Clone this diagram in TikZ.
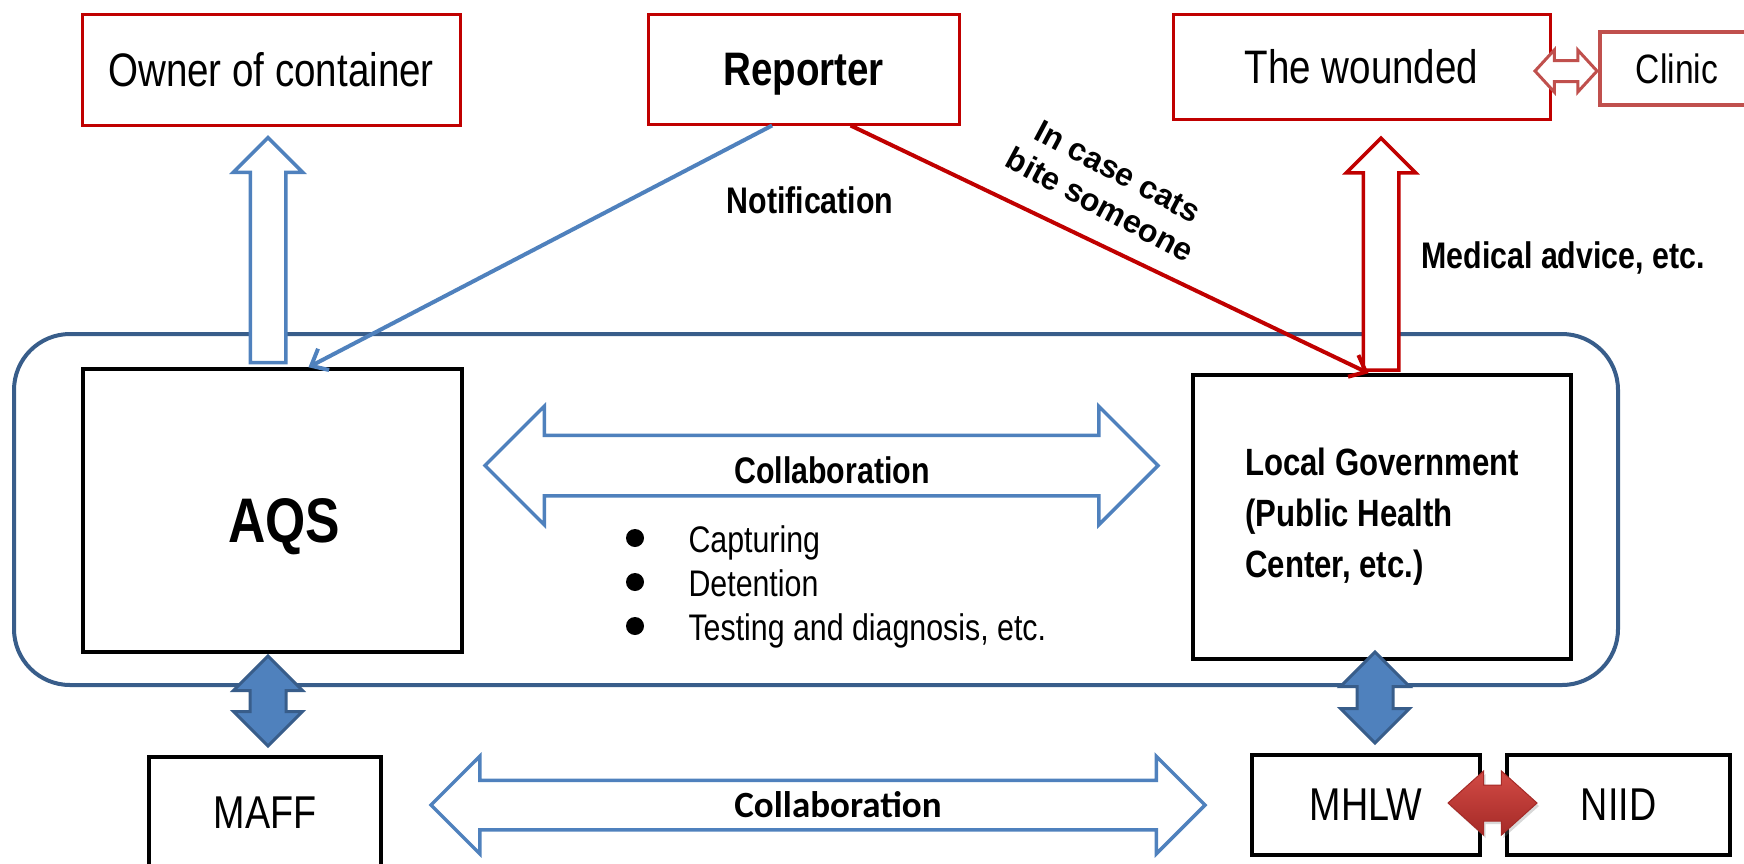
\documentclass[tikz,border=0pt]{standalone}
\usepackage{fontspec}
\setmainfont{Liberation Sans}[FakeStretch=0.82]
\newfontfamily\wideface{Liberation Sans}
\newfontfamily\calface{Carlito}
\usetikzlibrary{shapes.arrows,arrows.meta,calc,shadows}

\definecolor{boxred}{HTML}{C00000}
\definecolor{softred}{HTML}{C0504D}
\definecolor{arrowblue}{HTML}{4F81BD}
\definecolor{frameblue}{HTML}{385D8A}
\definecolor{glossred}{HTML}{D24A45}
\definecolor{deepred}{HTML}{A52A27}

\tikzset{
  redbox/.style={draw=boxred, line width=3pt, fill=white, inner sep=0pt},
  blackbox/.style={draw=black, line width=3.5pt, fill=white, inner sep=0pt},
  boxtext/.style={font=\fontsize{47}{56}\selectfont},
  tagtext/.style={font=\bfseries\fontsize{37}{44}\selectfont},
  hollowup/.style={single arrow, rotate=90, inner xsep=0pt, inner ysep=16pt,
    single arrow head extend=17pt, line width=3.5pt, fill=white},
  hollowboth/.style={double arrow, inner xsep=0pt, draw=arrowblue,
    line width=3.5pt, fill=white},
  solidboth/.style={double arrow, rotate=90, inner xsep=0pt, inner ysep=16.5pt,
    double arrow head extend=16.5pt, minimum width=66pt,
    draw=frameblue, fill=arrowblue, line width=3pt},
  bluelink/.style={draw=arrowblue, line width=4pt, ->},
  redlink/.style={draw=boxred, line width=4pt, ->}
}

\begin{document}
\begin{tikzpicture}[x=1pt, y=-1pt, >={Straight Barb[length=14pt,width=24pt]}]
    \useasboundingbox (0,0) rectangle (1744,863);
    \clip (0,0) rectangle (1744,863);

    % the frame round AQS and local government
    \draw[frameblue, line width=4pt, rounded corners=56pt] (14,334) rectangle (1618,685);

    % top row
    \node[redbox, boxtext, minimum width=378pt, minimum height=111pt] (owner) at (271,70) {Owner of container};
    \node[redbox, boxtext, font=\bfseries\fontsize{47}{56}\selectfont, text depth=0pt,
      minimum width=311pt, minimum height=110pt] (reporter) at (803.5,69) {Reporter};
    \node[redbox, boxtext, minimum width=377pt, minimum height=105pt] (wounded) at (1361.5,66.5) {The wounded};
    \node[draw=softred, line width=4pt, fill=white, inner sep=0pt, font=\fontsize{41}{48}\selectfont,
      minimum width=154pt, minimum height=73pt] (clinic) at (1677,68.5) {Clinic};

    % middle row
    \node[blackbox, minimum width=379pt, minimum height=283pt] (aqs) at (272.5,510.5) {};
    \node[font=\bfseries\fontsize{63}{70}\selectfont] (aqstext) at (284,527) {AQS};
    \node[blackbox, minimum width=378pt, minimum height=284pt, align=left,
      font=\bfseries\fontsize{38}{51}\selectfont] (localgov) at (1382,517)
      {Local Government\\(Public Health\\Center, etc.)};

    % bottom row
    \node[blackbox, boxtext, font=\fontsize{46}{54}\selectfont, minimum width=232pt, minimum height=112pt] (maff) at (265,813) {MAFF};
    \node[blackbox, boxtext, font=\fontsize{46}{54}\selectfont, minimum width=228pt, minimum height=100pt] (mhlw) at (1366,805) {MHLW};
    \node[blackbox, boxtext, font=\fontsize{46}{54}\selectfont, minimum width=223pt, minimum height=100pt] (niid) at (1618.5,805) {NIID};

    % block arrows
    \node[hollowup, draw=arrowblue, minimum height=225pt, minimum width=66pt] (ownerarrow) at (268,259) {};
    \node[hollowup, draw=boxred, minimum height=232pt, minimum width=64pt] (medarrow) at (1381,263) {};
    \node[hollowboth, inner ysep=28.5pt, minimum height=673pt, minimum width=115pt, double arrow head extend=29pt] (midcollab) at (821.5,465.5) {};
    \node[hollowboth, inner ysep=23pt, minimum height=774pt, minimum width=94pt, double arrow head extend=24pt] (lowcollab) at (818,805) {};
    \node[double arrow, inner xsep=0pt, inner ysep=9pt, draw=softred, line width=3pt, fill=white,
      minimum height=62pt, minimum width=39pt, double arrow head extend=10.5pt,
      double arrow tip angle=95] (careflow) at (1566,71) {};
    \node[solidboth, minimum height=90pt] (aqsmaff) at (268,701) {};
    \node[solidboth, minimum height=91pt] (govmhlw) at (1375,697.5) {};
    \node[double arrow, inner xsep=0pt, inner ysep=17.5pt, minimum height=89pt, minimum width=63pt,
      double arrow head extend=14pt, double arrow tip angle=84,
      draw=deepred, line width=1pt, top color=glossred, bottom color=deepred,
      drop shadow={opacity=0.3, shadow xshift=2pt, shadow yshift=-3pt}] (mhlwniid) at (1492.5,803) {};

    % reports
    \draw[bluelink] ($(reporter.south west)!.40!(reporter.south east)$) -- ($(aqs.north west)!.594!(aqs.north east)$);
    \draw[redlink] ($(reporter.south west)!.65!(reporter.south east)$) -- ($(localgov.north west)!.465!(localgov.north east)$);

    % labels
    \node[tagtext] (notif) at (810,200) {Notification};
    \node[font=\wideface\bfseries\fontsize{32}{38}\selectfont, align=center, rotate=-28] (bite) at (1109,188)
      {In case cats\\bite someone};
    \node[tagtext] (medical) at (1563,258) {Medical advice, etc.};
    \node[tagtext] (collabmid) at (832,470) {Collaboration};
    \node[font=\calface\bfseries\fontsize{37}{44}\selectfont] (collablow) at (838,805) {Collaboration};

    % tasks shared by AQS and local government
    \foreach \txt [count=\i] in {Capturing, Detention, {Testing and diagnosis, etc.}} {
        \node[circle, fill=black, inner sep=0pt, minimum size=18pt] (dot\i) at (635,494+44*\i) {};
        \node[anchor=base west, font=\fontsize{37}{44}\selectfont] (task\i) at (685,508+44*\i) {\txt};
    }
\end{tikzpicture}
\end{document}
